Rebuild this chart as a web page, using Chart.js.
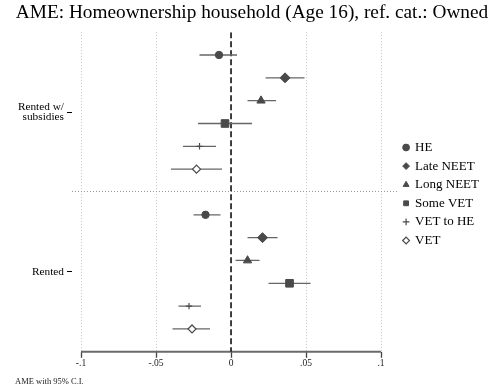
<!DOCTYPE html>
<html>
<head>
<meta charset="utf-8">
<script src="https://cdn.jsdelivr.net/npm/chart.js@4"></script>
<style>
  html, body { margin: 0; padding: 0; background: #fff; }
  #wrap { width: 496px; height: 388px; }
</style>
</head>
<body>
<div id="wrap"><canvas id="myChart" width="496" height="388"></canvas></div>
<script>
const groups = [['Rented w/', 'subsidies'], 'Rented'];
const seriesNames = ['HE', 'Late NEET', 'Long NEET', 'Some VET', 'VET to HE', 'VET'];

// average marginal effects with 95% bounds, one entry per series
const subsAme  = [-0.008, 0.036, 0.020, -0.004, -0.021, -0.023];
const subsLow  = [-0.021, 0.023, 0.011, -0.022, -0.032, -0.040];
const subsHigh = [ 0.004, 0.049, 0.030,  0.014, -0.010, -0.006];
const rentAme  = [-0.017, 0.021, 0.011,  0.039, -0.028, -0.026];
const rentLow  = [-0.025, 0.011, 0.003,  0.025, -0.035, -0.039];
const rentHigh = [-0.007, 0.031, 0.019,  0.053, -0.020, -0.014];

const xTicks = [-0.1, -0.05, 0, 0.05, 0.1];
const xTickLabels = ['-.1', '-.05', '0', '.05', '.1'];

Chart.defaults.font.family = "'Liberation Serif', 'Times New Roman', serif";
Chart.defaults.color = '#000';

const markColor = '#4a4a4a';
const ciColor = '#666666';
const markers = [
    { style: 'circle',   radius: 3.7, fill: markColor, width: 1 },
    { style: 'rectRot',  radius: 5,   fill: markColor, width: 1 },
    { style: 'triangle', radius: 4.8, fill: markColor, width: 1 },
    { style: 'rect',     radius: 5.4, fill: markColor, width: 1 },
    { style: 'cross',    radius: 3.2, fill: markColor, width: 1.2 },
    { style: 'rectRot',  radius: 4,   fill: '#ffffff', width: 1.2 },
];

const ame = [subsAme, rentAme];
const low = [subsLow, rentLow];
const high = [subsHigh, rentHigh];

// each group gets one row per series plus an empty row used as divider
const rowsPerGroup = seriesNames.length + 1;
function row(g, i) { return g * rowsPerGroup + i; }
const yMin = -1;
const yMax = groups.length * rowsPerGroup - 1;
const divider = seriesNames.length;
const groupCenters = groups.map((_, g) => row(g, (seriesNames.length - 1) / 2));

var datasets = [];

seriesNames.forEach((name, i) => {
    datasets.push({
        label: name,
        data: ame.map((vals, g) => ({ x: vals[i], y: row(g, i) })),
        pointStyle: markers[i].style,
        pointRadius: markers[i].radius,
        pointHoverRadius: markers[i].radius,
        backgroundColor: markers[i].fill,
        borderColor: markColor,
        borderWidth: markers[i].width,
    });
});

// confidence interval whiskers
ame.forEach((vals, g) => {
    seriesNames.forEach((name, i) => {
        datasets.push({
            data: [{ x: low[g][i], y: row(g, i) }, { x: high[g][i], y: row(g, i) }],
            showLine: true,
            pointRadius: 0,
            borderColor: ciColor,
            borderWidth: 1.3,
        });
    });
});

// zero reference line
datasets.push({
    data: [{ x: 0, y: yMin }, { x: 0, y: yMax }],
    showLine: true,
    pointRadius: 0,
    borderColor: '#000',
    borderWidth: 1.5,
    borderDash: [6, 3],
});

// x axis line between the outer ticks
datasets.push({
    data: [{ x: xTicks[0], y: yMax }, { x: xTicks[xTicks.length - 1], y: yMax }],
    showLine: true,
    pointRadius: 0,
    borderColor: '#6a6a6a',
    borderWidth: 2,
    clip: false,
});

const config = {
    type: 'scatter',
    data: { datasets: datasets },
    options: {
        responsive: false,
        animation: false,
        layout: { padding: { left: 15, right: 7, top: 0, bottom: 0 } },
        plugins: {
            title: {
                display: true,
                text: 'AME: Homeownership household (Age 16), ref. cat.: Owned',
                font: { size: 19.3, weight: 'normal' },
                color: '#000',
                padding: { top: 1, bottom: 8 },
            },
            subtitle: {
                display: true,
                text: 'AME with 95% C.I.',
                position: 'bottom',
                align: 'start',
                font: { size: 8.5 },
                color: '#222',
                padding: { top: 7.4, bottom: 1.2 },
            },
            legend: {
                position: 'right',
                align: 'center',
                labels: {
                    usePointStyle: true,
                    boxWidth: 5,
                    boxHeight: 4.8,
                    padding: 5.6,
                    font: { size: 13 },
                    color: '#000',
                    filter: item => item.datasetIndex < seriesNames.length,
                },
            },
            tooltip: { enabled: false },
        },
        scales: {
            x: {
                type: 'linear',
                min: -0.106,
                max: 0.1113,
                afterBuildTicks: s => { s.ticks = xTicks.map(v => ({ value: v })); },
                ticks: {
                    callback: (v, i) => xTickLabels[i],
                    font: { size: 9.5 },
                    color: '#222',
                    padding: 0,
                    autoSkip: false,
                    maxRotation: 0,
                },
                grid: {
                    color: ctx => (ctx.tick && ctx.tick.value === 0) ? 'rgba(0,0,0,0)' : '#c4c4c4',
                    lineWidth: 1,
                    tickLength: 6,
                    tickColor: '#444',
                    tickWidth: 1.3,
                },
                border: { display: false, dash: [1, 2] },
            },
            y: {
                type: 'linear',
                min: yMin,
                max: yMax,
                reverse: true,
                afterBuildTicks: s => {
                    s.ticks = [{ value: groupCenters[0] }, { value: divider }, { value: groupCenters[1] }];
                },
                afterFit: s => { s.width = 57; },
                ticks: {
                    callback: v => {
                        const g = groupCenters.indexOf(v);
                        return g >= 0 ? groups[g] : '';
                    },
                    font: { size: 11.3, lineHeight: 0.95 },
                    color: '#000',
                    padding: 3,
                    autoSkip: false,
                },
                grid: {
                    color: ctx => (ctx.tick && ctx.tick.value === divider) ? '#9a9a9a' : 'rgba(0,0,0,0)',
                    tickColor: ctx => (ctx.tick && ctx.tick.value === divider) ? 'rgba(0,0,0,0)' : '#000',
                    tickLength: 5,
                    tickWidth: 1,
                },
                border: { display: false, dash: [1, 2] },
            },
        },
    },
};

var myChart = new Chart(document.getElementById('myChart'), config);
</script>
</body>
</html>
